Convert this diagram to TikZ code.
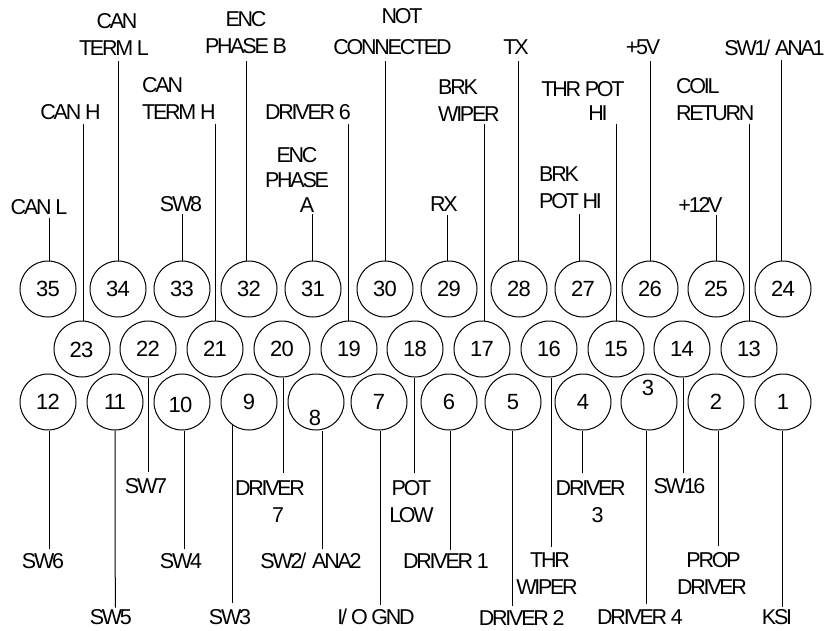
\documentclass[tikz,border=0pt]{standalone}
\usepackage{fontspec}
\setmainfont{Liberation Sans}
\newfontfamily\labfont[LetterSpace=-10.5]{Liberation Sans}
\newfontfamily\numfont[LetterSpace=-4]{Liberation Sans}
\newcommand{\labsel}{\labfont\fontsize{21.5}{27}\selectfont}
\newcommand{\numsel}{\numfont\fontsize{22}{24}\selectfont}
\tikzset{
  pin/.style={circle,draw=black,line width=1pt,minimum size=56pt,inner sep=0pt,font=\numsel},
  num/.style={inner sep=0pt,font=\numsel},
  lab/.style={inner sep=0pt,font=\labsel,align=center},
  labl/.style={inner sep=0pt,font=\labsel,align=left,anchor=west},
  wire/.style={draw=black,line width=1pt}
}
\begin{document}
\begin{tikzpicture}[x=1pt,y=-1pt]
\useasboundingbox (0,0) rectangle (827,630);
% pins
\foreach \n/\x in {35/48,34/118,33/182,32/249,31/313,30/385,29/449,28/519,27/583,26/650,25/716,24/783}
  \node[pin] (c\n) at (\x,289) {\n};
\foreach \n/\x in {22/148,21/215,20/282,19/349,18/415,17/482,16/549,15/616,14/682,13/749}
  \node[pin] (c\n) at (\x,349) {\n};
\node[pin] (c23) at (82,349) {};
\node[num] (n23) at (81.5,350) {23};
\foreach \n/\x in {12/48,11/115,9/249,7/379,6/449,5/513,4/583,2/716,1/783}
  \node[pin] (c\n) at (\x,402) {\n};
\node[pin] (c10) at (182,402) {};
\node[num] (n10) at (180.5,404.5) {10};
\node[pin] (c8) at (316,402) {};
\node[num] (n8) at (315,417.5) {8};
\node[pin] (c3) at (649,402) {};
\node[num] (n3) at (648,387.5) {3};
% labels, top
\node[lab] (l35) at (39,207) {CAN L};
\node[lab] (l23) at (70.5,112) {CAN H};
\node[lab] (l34) at (114,34) {\hspace*{6pt}CAN\\TERM L};
\node[lab] (l32) at (246,33) {ENC\\PHASE B};
\node[labl] (l21) at (142,98.5) {CAN\\TERM H};
\node[lab] (l33) at (181,204) {SW8};
\node[lab] (l19) at (308,112) {DRIVER 6};
\node[lab] (l31) at (297,180) {ENC\\[-2pt]PHASE\\[-2pt]\hspace*{20pt}A};
\node[lab] (l30) at (392.5,32) {\hspace*{19pt}NOT\\[4pt]CONNECTED};
\node[lab] (l28) at (516,47.5) {TX};
\node[labl] (l17) at (438,100.5) {BRK\\WIPER};
\node[lab] (l15) at (583,100.5) {THR POT\\[-3pt]\hspace*{30pt}HI};
\node[lab] (l26) at (643,47.5) {+5V};
\node[lab] (l24) at (774.5,47.5) {SW1/\hspace{5pt}ANA1};
\node[labl] (l13) at (676,99.5) {COIL\\RETURN};
\node[lab] (l29) at (444,204) {RX};
\node[labl] (l27) at (539,188) {BRK\\POT HI};
\node[lab] (l25) at (700.5,205) {+12V};
% labels, bottom
\node[lab] (l12) at (43,561) {SW6};
\node[lab] (l11) at (110.8,617.5) {SW5};
\node[lab] (l22) at (146,486) {SW7};
\node[lab] (l10) at (181,561) {SW4};
\node[lab] (l20) at (270,501.5) {DRIVER\\\hspace*{16pt}7};
\node[lab] (l9) at (230,617.5) {SW3};
\node[lab] (l8) at (311,561) {SW2/\hspace{6pt}ANA2};
\node[lab] (l7) at (376,617) {I/\hspace{4pt}O GND};
\node[lab] (l18) at (411.5,501.5) {POT\\LOW};
\node[lab] (l6) at (446,561) {DRIVER 1};
\node[lab] (l5) at (521.7,618) {DRIVER 2};
\node[lab] (l16) at (547,573.5) {\hspace*{6pt}THR\\WIPER};
\node[lab] (l4) at (590.7,501.5) {DRIVER\\\hspace*{14pt}3};
\node[lab] (l14) at (679.5,486) {SW16};
\node[lab] (l2) at (712,573.5) {\hspace*{3pt}PROP\\DRIVER};
\node[lab] (l3) at (640,617) {DRIVER 4};
\node[lab] (l1) at (777,617) {KSI};
% connectors
\foreach \n/\x/\y in {35/49/218,23/83.5/123.5,34/118.5/61,33/182/214,21/215/123.5,32/246/61,31/312/214,19/348/123.5,30/385/61,29/447.7/215,17/484.7/123.5,28/518.7/61,27/579/214,15/616/123.5,26/650/61,25/716/215,13/749/123.5,24/781/60}{
  \coordinate (e\n) at (\x,\y);
  \draw[wire] (e\n) -- (e\n |- c\n.north);
}
\foreach \n/\x/\y in {12/49/549,22/148/471.7,10/184/549,20/283/473,8/322.3/549,7/380/605,18/414.3/473,6/450.7/550,5/512/606,16/551/546.7,4/582.7/473,3/646.3/604,14/683.3/473,2/718/546,1/782.7/606.7}{
  \coordinate (e\n) at (\x,\y);
  \draw[wire] (e\n) -- (e\n |- c\n.south);
}
\coordinate (e11) at (115.3,607.7);
\draw[wire] (e11) -- (c11.south);
\coordinate (e9) at (232,602.7);
\draw[wire] (e9) -- (e9 |- c9.232);
\end{tikzpicture}
\end{document}
